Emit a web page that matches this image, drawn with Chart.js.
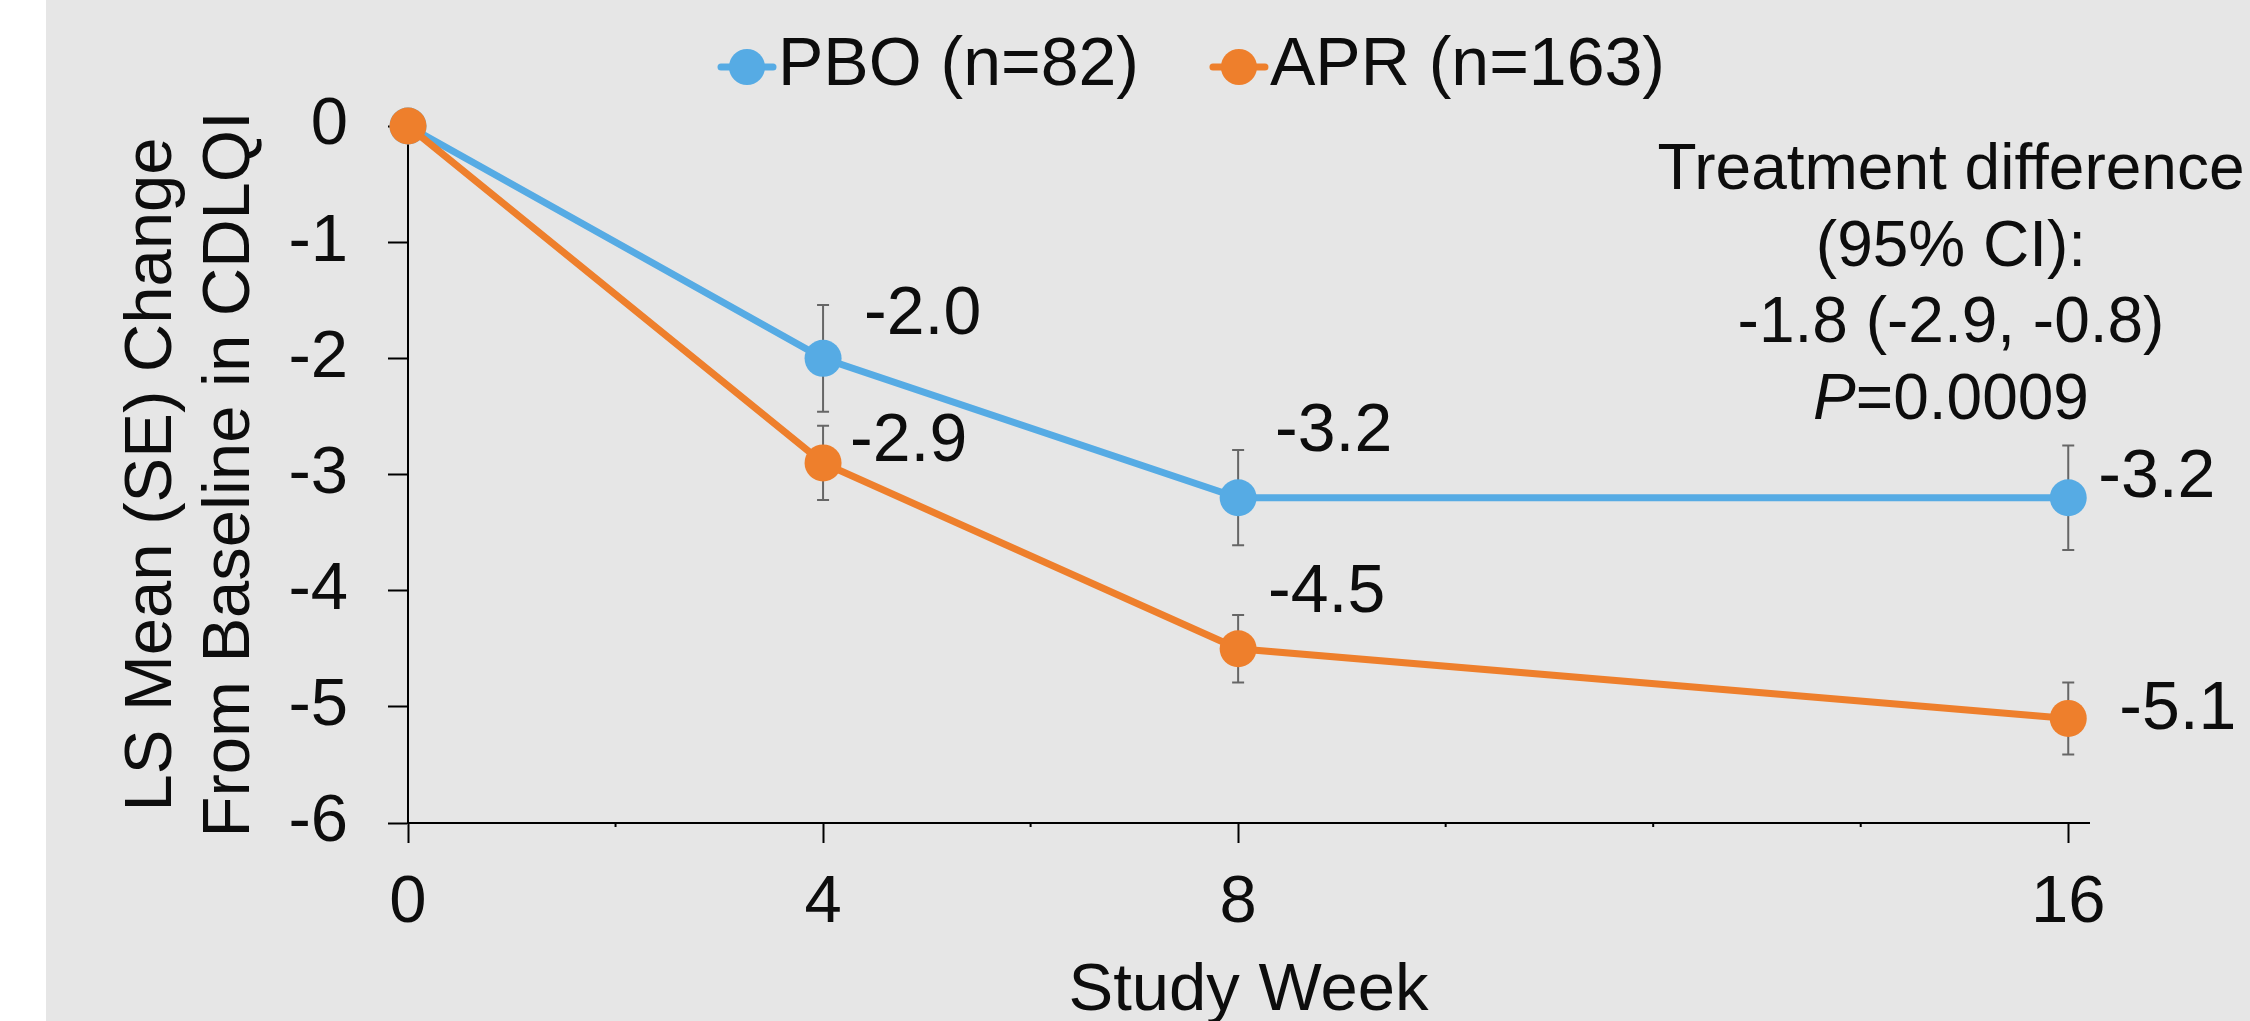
<!DOCTYPE html>
<html>
<head>
<meta charset="utf-8">
<script src="https://cdn.jsdelivr.net/npm/chart.js@4.4.1/dist/chart.umd.min.js"></script>
<style>
    html, body { margin: 0; padding: 0; background: #fff; overflow: hidden; }
    #wrap { position: relative; width: 2250px; height: 1060px; }
</style>
</head>
<body>
<div id="wrap"><canvas id="chart" width="2250" height="1060"></canvas></div>
<script>
// data
const weeks = [0, 4, 8, 16];
const xTickLabels = [0, 4, 8, 16];
const xMinorTicks = [2, 6, 10, 12, 14];
const yTickLabels = [0, -1, -2, -3, -4, -5, -6];
const seriesNames = ["PBO (n=82)", "APR (n=163)"];
const pboMean = [0, -2.0, -3.2, -3.2];
const pboSE = [0, 0.46, 0.41, 0.45];
const aprMean = [0, -2.9, -4.5, -5.1];
const aprSE = [0, 0.32, 0.29, 0.31];
const noteLines = ["Treatment difference", "(95% CI):", "-1.8 (-2.9, -0.8)"];
const notePLetter = "P";
const notePValue = "=0.0009";

const blue = "#56abe4";
const orange = "#ee7f2c";
const textColor = "#0d0d0d";
const fontFamily = "'Liberation Sans', Arial, sans-serif";

// where each value label sits relative to its point: [dx, dy]
const labelOffsets = [
    [null, [41, -24], [37, -47], [30, -1]],
    [null, [27, -2], [30, -37], [51, 11]]
];

Chart.defaults.font.family = fontFamily;

const background = {
    id: "background",
    beforeDraw(chart) {
        let c = chart.ctx;
        c.save();
        c.fillStyle = "#e6e6e6";
        c.fillRect(46, 0, chart.width - 46, chart.height);
        c.restore();
    }
};

const errorBars = {
    id: "errorBars",
    beforeDatasetsDraw(chart) {
        let c = chart.ctx;
        let xs = chart.scales.x;
        let ys = chart.scales.y;
        c.save();
        c.strokeStyle = "#666666";
        c.lineWidth = 2;
        chart.data.datasets.forEach(ds => {
            ds.data.forEach((p, j) => {
                let se = ds.se[j];
                if (!se) return;
                let x = xs.getPixelForValue(p.x);
                let top = ys.getPixelForValue(p.y + se);
                let bot = ys.getPixelForValue(p.y - se);
                c.beginPath();
                c.moveTo(x, top); c.lineTo(x, bot);
                c.moveTo(x - 6, top); c.lineTo(x + 6, top);
                c.moveTo(x - 6, bot); c.lineTo(x + 6, bot);
                c.stroke();
            });
        });
        c.restore();
    }
};

const extras = {
    id: "extras",
    afterDraw(chart) {
        let c = chart.ctx;
        let xs = chart.scales.x;
        let area = chart.chartArea;
        c.save();

        // minor ticks on the x axis
        c.strokeStyle = "#000";
        c.lineWidth = 2;
        xMinorTicks.forEach(v => {
            let x = xs.getPixelForValue(v);
            c.beginPath();
            c.moveTo(x, area.bottom);
            c.lineTo(x, area.bottom + 4);
            c.stroke();
        });

        // value labels
        c.fillStyle = textColor;
        c.font = "68px " + fontFamily;
        c.textAlign = "left";
        c.textBaseline = "alphabetic";
        chart.data.datasets.forEach((ds, i) => {
            let meta = chart.getDatasetMeta(i);
            meta.data.forEach((pt, j) => {
                let off = labelOffsets[i][j];
                if (!off) return;
                c.fillText(ds.data[j].y.toFixed(1), pt.x + off[0], pt.y + off[1]);
            });
        });

        // legend: line + marker, then the name
        c.textBaseline = "middle";
        let lx = 747;
        chart.data.datasets.forEach(ds => {
            c.strokeStyle = ds.borderColor;
            c.lineWidth = 7;
            c.lineCap = "round";
            c.beginPath();
            c.moveTo(lx - 26, 67);
            c.lineTo(lx + 26, 67);
            c.stroke();
            c.fillStyle = ds.borderColor;
            c.beginPath();
            c.arc(lx, 67, 18, 0, Math.PI * 2);
            c.fill();
            c.fillStyle = textColor;
            c.fillText(ds.label, lx + 31, 66);
            lx = lx + 31 + c.measureText(ds.label).width + 100;
        });

        // treatment difference note
        let cx = area.right - 138;
        c.font = "64px " + fontFamily;
        c.textAlign = "center";
        c.textBaseline = "alphabetic";
        for (let k = 0; k < noteLines.length; k++) {
            c.fillText(noteLines[k], cx, area.top + 63 + k * 76.5);
        }
        let pY = area.top + 63 + 3 * 76.5;
        c.font = "italic 64px " + fontFamily;
        let wP = c.measureText(notePLetter).width;
        c.font = "64px " + fontFamily;
        let wV = c.measureText(notePValue).width;
        let startX = cx - (wP + wV) / 2;
        c.textAlign = "left";
        c.font = "italic 64px " + fontFamily;
        c.fillText(notePLetter, startX, pY);
        c.font = "64px " + fontFamily;
        c.fillText(notePValue, startX + wP, pY);

        c.restore();
    }
};

const ctx = document.getElementById("chart").getContext("2d");
const myChart = new Chart(ctx, {
    type: "line",
    data: {
        datasets: [{
            label: seriesNames[0],
            data: weeks.map((w, i) => ({ x: w, y: pboMean[i] })),
            se: pboSE,
            borderColor: blue,
            backgroundColor: blue,
            pointBackgroundColor: blue,
            borderWidth: 7,
            pointRadius: 18.5,
            pointBorderWidth: 0,
            tension: 0,
            clip: false,
            order: 1
        }, {
            label: seriesNames[1],
            data: weeks.map((w, i) => ({ x: w, y: aprMean[i] })),
            se: aprSE,
            borderColor: orange,
            backgroundColor: orange,
            pointBackgroundColor: orange,
            borderWidth: 7,
            pointRadius: 18.5,
            pointBorderWidth: 0,
            tension: 0,
            clip: false,
            order: 0
        }]
    },
    options: {
        responsive: false,
        animation: false,
        layout: { padding: { left: 100, top: 126, right: 161, bottom: 0 } },
        plugins: {
            legend: { display: false },
            tooltip: { enabled: false }
        },
        scales: {
            x: {
                type: "linear",
                min: 0,
                max: 16.2,
                afterBuildTicks: s => { s.ticks = xTickLabels.map(v => ({ value: v })); },
                afterFit: s => { s.height = 237; },
                ticks: { font: { size: 67 }, color: textColor, padding: 20, maxRotation: 0, autoSkip: false },
                grid: { drawOnChartArea: false, tickLength: 20, tickColor: "#000", tickWidth: 2 },
                border: { color: "#000", width: 2 },
                title: {
                    display: true,
                    text: "Study Week",
                    font: { size: 67 },
                    color: textColor,
                    padding: { top: 0, bottom: 28 }
                }
            },
            y: {
                min: -6,
                max: 0,
                afterBuildTicks: s => { s.ticks = yTickLabels.map(v => ({ value: v })); },
                afterFit: s => { s.width = 308; },
                ticks: { font: { size: 67 }, color: textColor, padding: 40 },
                grid: { drawOnChartArea: false, tickLength: 20, tickColor: "#000", tickWidth: 2 },
                border: { color: "#000", width: 2 },
                title: {
                    display: true,
                    text: ["LS Mean (SE) Change", "From Baseline in CDLQI"],
                    font: { size: 67, lineHeight: 1.164 },
                    color: textColor,
                    padding: { top: 14, bottom: 0 }
                }
            }
        }
    },
    plugins: [background, errorBars, extras]
});
</script>
</body>
</html>
